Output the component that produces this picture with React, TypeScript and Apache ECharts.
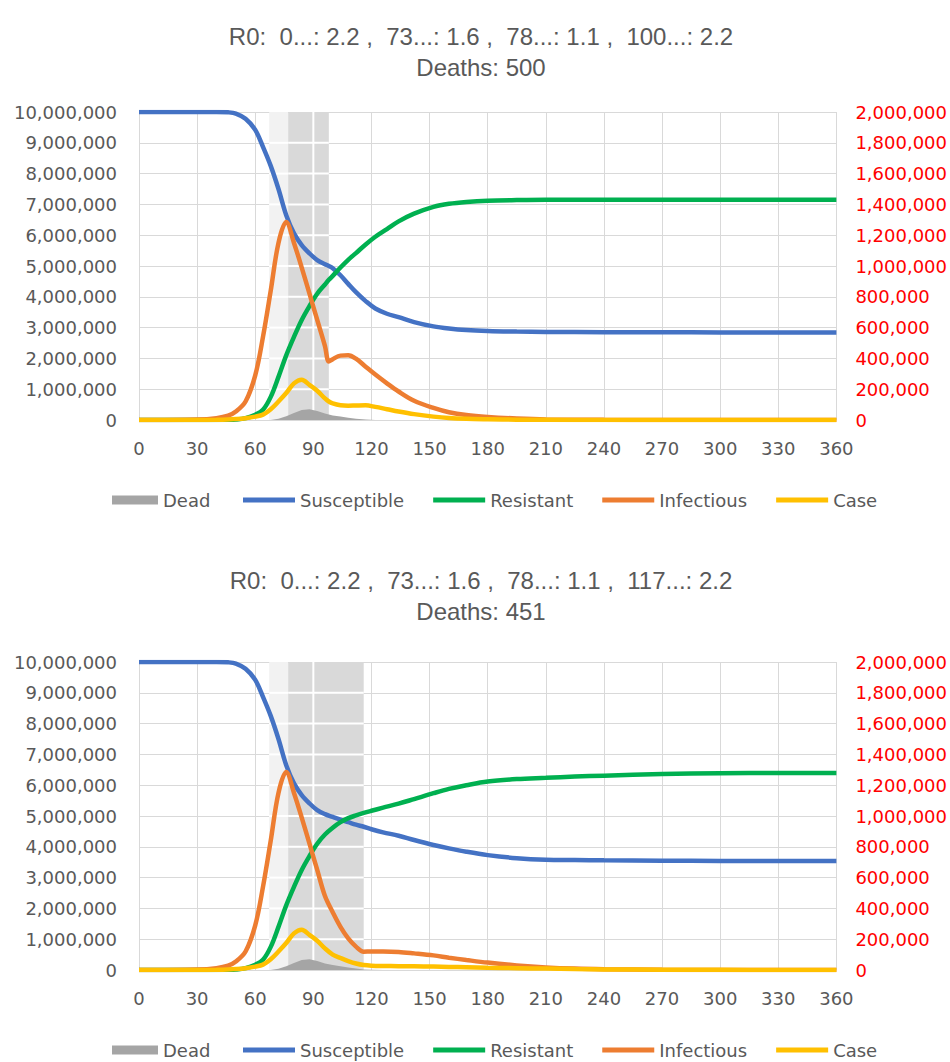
import React, { useEffect, useRef } from "react";
import * as echarts from "echarts";

// ---------- data ----------
const titlesA = ["R0:  0...: 2.2 ,  73...: 1.6 ,  78...: 1.1 ,  100...: 2.2", "Deaths: 500"];
const titlesB = ["R0:  0...: 2.2 ,  73...: 1.6 ,  78...: 1.1 ,  117...: 2.2", "Deaths: 451"];

const seriesNames = ["Dead", "Susceptible", "Resistant", "Infectious", "Case"];
const seriesColors = ["#A5A5A5", "#4472C4", "#00B050", "#ED7D31", "#FFC000"];

const xTicks = { min: 0, max: 360, step: 30 };
const leftTicks = { min: 0, max: 10000000, step: 1000000 };
const rightTicks = { min: 0, max: 2000000, step: 200000 };

// shaded periods [startDay, endDay, shade(0 light / 1 dark)]
const bandsA = [
  [67.2, 77, 0],
  [77, 98, 1],
];
const bandsB = [
  [67.2, 77, 0],
  [77, 116, 1],
];

const daysA = [0, 30, 40, 46, 50, 55, 60, 64, 68, 72, 76, 80, 84, 88, 92, 96, 98, 100, 104, 108, 112, 117, 122, 128, 134, 142, 152, 160, 169, 180, 195, 210, 240, 270, 300, 330, 360];
const deadA = [0, 0, 0, 0, 0, 0, 0, 0, 0, 8000, 25000, 45000, 65000, 70000, 58000, 42000, 35000, 30000, 22000, 15000, 8000, 3000, 0, 0, 0, 0, 0, 0, 0, 0, 0, 0, 0, 0, 0, 0, 0];
const susceptibleA = [10000000, 10000000, 10000000, 9990000, 9950000, 9780000, 9420000, 8870000, 8250000, 7500000, 6650000, 6060000, 5680000, 5410000, 5190000, 5060000, 5000000, 4930000, 4700000, 4420000, 4150000, 3860000, 3620000, 3450000, 3340000, 3180000, 3040000, 2970000, 2920000, 2890000, 2870000, 2860000, 2850000, 2850000, 2840000, 2840000, 2840000];
const resistantA = [0, 0, 0, 5000, 15000, 60000, 170000, 330000, 750000, 1400000, 2100000, 2700000, 3250000, 3700000, 4100000, 4400000, 4550000, 4680000, 4950000, 5200000, 5420000, 5700000, 5950000, 6200000, 6450000, 6700000, 6920000, 7020000, 7080000, 7120000, 7140000, 7150000, 7150000, 7150000, 7150000, 7150000, 7150000];
const infectiousA = [0, 3000, 12000, 28000, 55000, 120000, 290000, 540000, 840000, 1150000, 1285000, 1150000, 990000, 820000, 650000, 480000, 380000, 395000, 418000, 420000, 398000, 346000, 295000, 238000, 185000, 125000, 78000, 50000, 32000, 20000, 10000, 4000, 1000, 0, 0, 0, 0];
const caseA = [0, 0, 1000, 3000, 6000, 12000, 22000, 35000, 70000, 120000, 175000, 238000, 262000, 228000, 190000, 140000, 120000, 108000, 96000, 93000, 94000, 95000, 85000, 70000, 55000, 38000, 22000, 13000, 8000, 5000, 2000, 1000, 0, 0, 0, 0, 0];

const daysB = [0, 30, 40, 46, 50, 55, 60, 64, 68, 72, 76, 80, 84, 88, 92, 96, 100, 104, 108, 112, 116, 120, 126, 134, 142, 152, 160, 169, 180, 195, 210, 225, 240, 270, 300, 330, 360];
const deadB = [0, 0, 0, 0, 0, 0, 0, 0, 0, 8000, 25000, 45000, 65000, 70000, 58000, 42000, 32000, 24000, 16000, 9000, 4000, 1000, 0, 0, 0, 0, 0, 0, 0, 0, 0, 0, 0, 0, 0, 0, 0];
const susceptibleB = [10000000, 10000000, 10000000, 9990000, 9950000, 9780000, 9420000, 8870000, 8250000, 7500000, 6650000, 6060000, 5680000, 5410000, 5190000, 5060000, 4970000, 4880000, 4800000, 4720000, 4650000, 4570000, 4470000, 4360000, 4220000, 4060000, 3950000, 3840000, 3730000, 3630000, 3580000, 3570000, 3560000, 3550000, 3540000, 3540000, 3540000];
const resistantB = [0, 0, 0, 5000, 15000, 60000, 170000, 330000, 750000, 1400000, 2100000, 2700000, 3250000, 3700000, 4100000, 4400000, 4620000, 4800000, 4930000, 5020000, 5100000, 5170000, 5270000, 5400000, 5550000, 5740000, 5880000, 6000000, 6120000, 6200000, 6240000, 6280000, 6310000, 6360000, 6390000, 6400000, 6400000];
const infectiousB = [0, 3000, 12000, 28000, 55000, 120000, 290000, 540000, 840000, 1150000, 1285000, 1150000, 990000, 820000, 650000, 480000, 375000, 280000, 205000, 152000, 119000, 120000, 120000, 117000, 108000, 95000, 80000, 65000, 48000, 30000, 17000, 9000, 5000, 1000, 0, 0, 0];
const caseB = [0, 0, 1000, 3000, 6000, 12000, 22000, 35000, 70000, 120000, 175000, 238000, 262000, 228000, 190000, 140000, 100000, 78000, 58000, 42000, 32000, 28000, 26000, 25000, 24000, 22000, 20000, 18000, 15000, 12000, 9000, 6000, 4000, 2000, 1000, 0, 0];

// ---------- style ----------
const FONT = "DejaVu Sans";
const TITLE_FONT = "Liberation Sans";
const GRAY_TEXT = "#595959";
const GRID_LINE = "#D9D9D9";
const BAND_COLORS = ["#F2F2F2", "#D9D9D9"];

const fmt = (v: number) => Math.round(v).toLocaleString("en-US");

type Panel = {
  titles: string[];
  bands: number[][];
  days: number[];
  values: number[][]; // dead, susceptible, resistant, infectious, case
  top: number; // plot top
  titleTop: number;
  legendTop: number;
};

const panels: Panel[] = [
  { titles: titlesA, bands: bandsA, days: daysA, values: [deadA, susceptibleA, resistantA, infectiousA, caseA], top: 112, titleTop: 21, legendTop: 486 },
  { titles: titlesB, bands: bandsB, days: daysB, values: [deadB, susceptibleB, resistantB, infectiousB, caseB], top: 662, titleTop: 565, legendTop: 1036 },
];

const PLOT_LEFT = 139;
const PLOT_RIGHT = 838;
const PLOT_HEIGHT = 308;
const WIDTH = 950;
const HEIGHT = 1062;
const TITLE_CENTER = 481;

function buildOption() {
  const grid: any[] = [];
  const xAxis: any[] = [];
  const yAxis: any[] = [];
  const series: any[] = [];
  const title: any[] = [];
  const legend: any[] = [];

  panels.forEach((p, gi) => {
    grid.push({ left: PLOT_LEFT, width: PLOT_RIGHT - PLOT_LEFT, top: p.top, height: PLOT_HEIGHT, containLabel: false });
    xAxis.push({
      type: "value",
      gridIndex: gi,
      min: xTicks.min,
      max: xTicks.max,
      interval: xTicks.step,
      axisLine: { show: false },
      axisTick: { show: false },
      splitLine: { show: true, lineStyle: { color: GRID_LINE, width: 1 } },
      axisLabel: { color: GRAY_TEXT, fontFamily: FONT, fontSize: 18, margin: 19 },
    });
    yAxis.push({
      type: "value",
      gridIndex: gi,
      position: "left",
      min: leftTicks.min,
      max: leftTicks.max,
      interval: leftTicks.step,
      axisLine: { show: false },
      axisTick: { show: false },
      splitLine: { show: true, lineStyle: { color: GRID_LINE, width: 1 } },
      axisLabel: { color: GRAY_TEXT, fontFamily: FONT, fontSize: 18, margin: 22, formatter: fmt },
    });
    yAxis.push({
      type: "value",
      gridIndex: gi,
      position: "right",
      min: rightTicks.min,
      max: rightTicks.max,
      interval: rightTicks.step,
      axisLine: { show: false },
      axisTick: { show: false },
      splitLine: { show: false },
      axisLabel: { color: "#FF0000", fontFamily: FONT, fontSize: 18, margin: 19, formatter: fmt },
    });
    const leftIdx = gi * 2;
    const rightIdx = gi * 2 + 1;

    series.push({
      type: "custom",
      name: "band" + gi,
      xAxisIndex: gi,
      yAxisIndex: leftIdx,
      silent: true,
      z: 1,
      clip: true,
      data: p.bands.map((b) => [b[0], b[1], b[2], 0]),
      encode: { x: [0, 1], y: 3 },
      renderItem: (_params: any, api: any) => {
        const x0 = api.value(0);
        const x1 = api.value(1);
        const shade = api.value(2);
        const tl = api.coord([x0, leftTicks.max]);
        const br = api.coord([x1, leftTicks.min]);
        const children: any[] = [
          {
            type: "rect",
            shape: { x: tl[0], y: tl[1], width: br[0] - tl[0], height: br[1] - tl[1] },
            style: { fill: BAND_COLORS[shade] },
          },
        ];
        for (let v = leftTicks.min + leftTicks.step; v < leftTicks.max; v += leftTicks.step) {
          const y = api.coord([x0, v])[1];
          children.push({ type: "line", shape: { x1: tl[0], y1: y, x2: br[0], y2: y }, style: { stroke: "#FFFFFF", lineWidth: 2 } });
        }
        for (let d = xTicks.min; d <= xTicks.max; d += xTicks.step) {
          if (d > x0 && d < x1) {
            const x = api.coord([d, 0])[0];
            children.push({ type: "line", shape: { x1: x, y1: tl[1], x2: x, y2: br[1] }, style: { stroke: "#FFFFFF", lineWidth: 2 } });
          }
        }
        return { type: "group", children };
      },
    });

    seriesNames.forEach((name, si) => {
      const isDead = si === 0;
      const onRight = si === 0 || si === 3 || si === 4;
      const vals = p.values[si];
      series.push({
        type: "line",
        name,
        xAxisIndex: gi,
        yAxisIndex: onRight ? rightIdx : leftIdx,
        data: p.days.map((d, i) => [d, vals[i]]),
        symbol: "none",
        showSymbol: false,
        smooth: isDead ? false : 0.35,
        color: seriesColors[si],
        z: 3 + si,
        lineStyle: { width: isDead ? 0 : 4.5, color: seriesColors[si] },
        itemStyle: { color: seriesColors[si] },
        areaStyle: isDead ? { color: seriesColors[si], opacity: 1 } : undefined,
      });
    });

    title.push({
      text: p.titles.join("\n"),
      left: TITLE_CENTER,
      top: p.titleTop,
      padding: 0,
      textAlign: "center",
      textStyle: { fontFamily: TITLE_FONT, fontSize: 24, fontWeight: "normal", color: GRAY_TEXT, lineHeight: 31 },
    });

    const legendText = { fontFamily: FONT, fontSize: 18, color: GRAY_TEXT };
    // area item (Dead)
    legend.push({
      left: 107,
      top: p.legendTop,
      orient: "horizontal",
      itemWidth: 46,
      itemHeight: 9,
      selectedMode: false,
      textStyle: legendText,
      data: [{ name: seriesNames[0], icon: "rect" }],
    });
    // line items
    legend.push({
      left: 238,
      top: p.legendTop,
      orient: "horizontal",
      itemWidth: 52,
      itemHeight: 5,
      itemGap: 29,
      selectedMode: false,
      textStyle: legendText,
      data: seriesNames.slice(1).map((n) => ({ name: n, icon: "rect" })),
    });
  });

  return {
    animation: false,
    backgroundColor: "#FFFFFF",
    title,
    legend,
    grid,
    xAxis,
    yAxis,
    series,
  };
}

export default function App() {
  const ref = useRef<HTMLDivElement>(null);
  useEffect(() => {
    if (!ref.current) return;
    const chart = echarts.init(ref.current, undefined, { renderer: "svg" });
    chart.setOption(buildOption() as any);
    return () => chart.dispose();
  }, []);
  return (
    <div
      ref={ref}
      style={{ position: "absolute", left: 0, top: 0, width: WIDTH, height: HEIGHT, background: "#FFFFFF" }}
    />
  );
}
